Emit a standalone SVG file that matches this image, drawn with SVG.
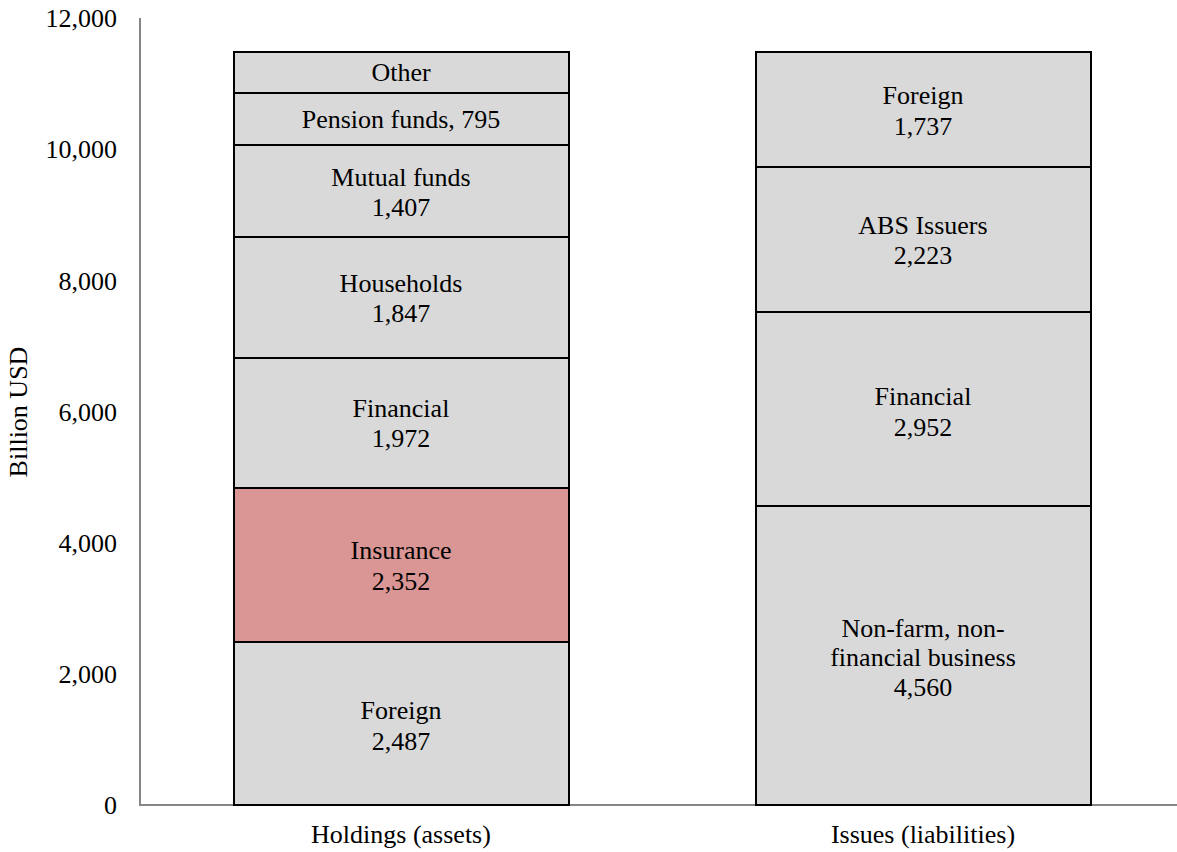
<svg xmlns="http://www.w3.org/2000/svg" width="1177" height="852" viewBox="0 0 1177 852" font-family="'Liberation Serif', 'Times New Roman', serif" font-size="26">
<style>
.c{text-anchor:middle}
.r{text-anchor:end}
.seg{fill:#D9D9D9;stroke:#000;stroke-width:2}
.hl{fill:#D99694;stroke:#000;stroke-width:2}
.ax{stroke:#868686;stroke-width:2;fill:none}
</style>
<rect width="1177" height="852" fill="#fff"/>
<g id="axes">
<path class="ax" d="M140,18 V805 H1177"/>
<text class="r" x="117" y="27">12,000</text>
<text class="r" x="117" y="158">10,000</text>
<text class="r" x="117" y="290">8,000</text>
<text class="r" x="117" y="421">6,000</text>
<text class="r" x="117" y="552">4,000</text>
<text class="r" x="117" y="683">2,000</text>
<text class="r" x="117" y="814">0</text>
<text class="c" transform="translate(27,412) rotate(-90)">Billion USD</text>
<text class="c" x="401" y="843">Holdings (assets)</text>
<text class="c" x="923" y="843">Issues (liabilities)</text>
</g>
<g id="left-foreign"><rect class="seg" x="234" y="642" width="335" height="163"/><text class="c" x="401" y="719">Foreign</text><text class="c" x="401" y="750">2,487</text></g>
<g id="left-insurance"><rect class="hl" x="234" y="488" width="335" height="154"/><text class="c" x="401" y="559">Insurance</text><text class="c" x="401" y="590">2,352</text></g>
<g id="left-financial"><rect class="seg" x="234" y="358" width="335" height="130"/><text class="c" x="401" y="417">Financial</text><text class="c" x="401" y="447">1,972</text></g>
<g id="left-households"><rect class="seg" x="234" y="237" width="335" height="121"/><text class="c" x="401" y="292">Households</text><text class="c" x="401" y="322">1,847</text></g>
<g id="left-mutual"><rect class="seg" x="234" y="145" width="335" height="92"/><text class="c" x="401" y="186">Mutual funds</text><text class="c" x="401" y="216">1,407</text></g>
<g id="left-pension"><rect class="seg" x="234" y="93" width="335" height="52"/><text class="c" x="401" y="128">Pension funds, 795</text></g>
<g id="left-other"><rect class="seg" x="234" y="52" width="335" height="41"/><text class="c" x="401" y="81">Other</text></g>
<g id="right-nonfarm"><rect class="seg" x="756" y="506" width="335" height="299"/><text class="c" x="923" y="637">Non-farm, non-</text><text class="c" x="923" y="666">financial business</text><text class="c" x="923" y="696">4,560</text></g>
<g id="right-financial"><rect class="seg" x="756" y="312" width="335" height="194"/><text class="c" x="923" y="405">Financial</text><text class="c" x="923" y="436">2,952</text></g>
<g id="right-abs"><rect class="seg" x="756" y="167" width="335" height="145"/><text class="c" x="923" y="234">ABS Issuers</text><text class="c" x="923" y="264">2,223</text></g>
<g id="right-foreign"><rect class="seg" x="756" y="52" width="335" height="115"/><text class="c" x="923" y="104">Foreign</text><text class="c" x="923" y="135">1,737</text></g>
<g id="connectors"></g>
</svg>
